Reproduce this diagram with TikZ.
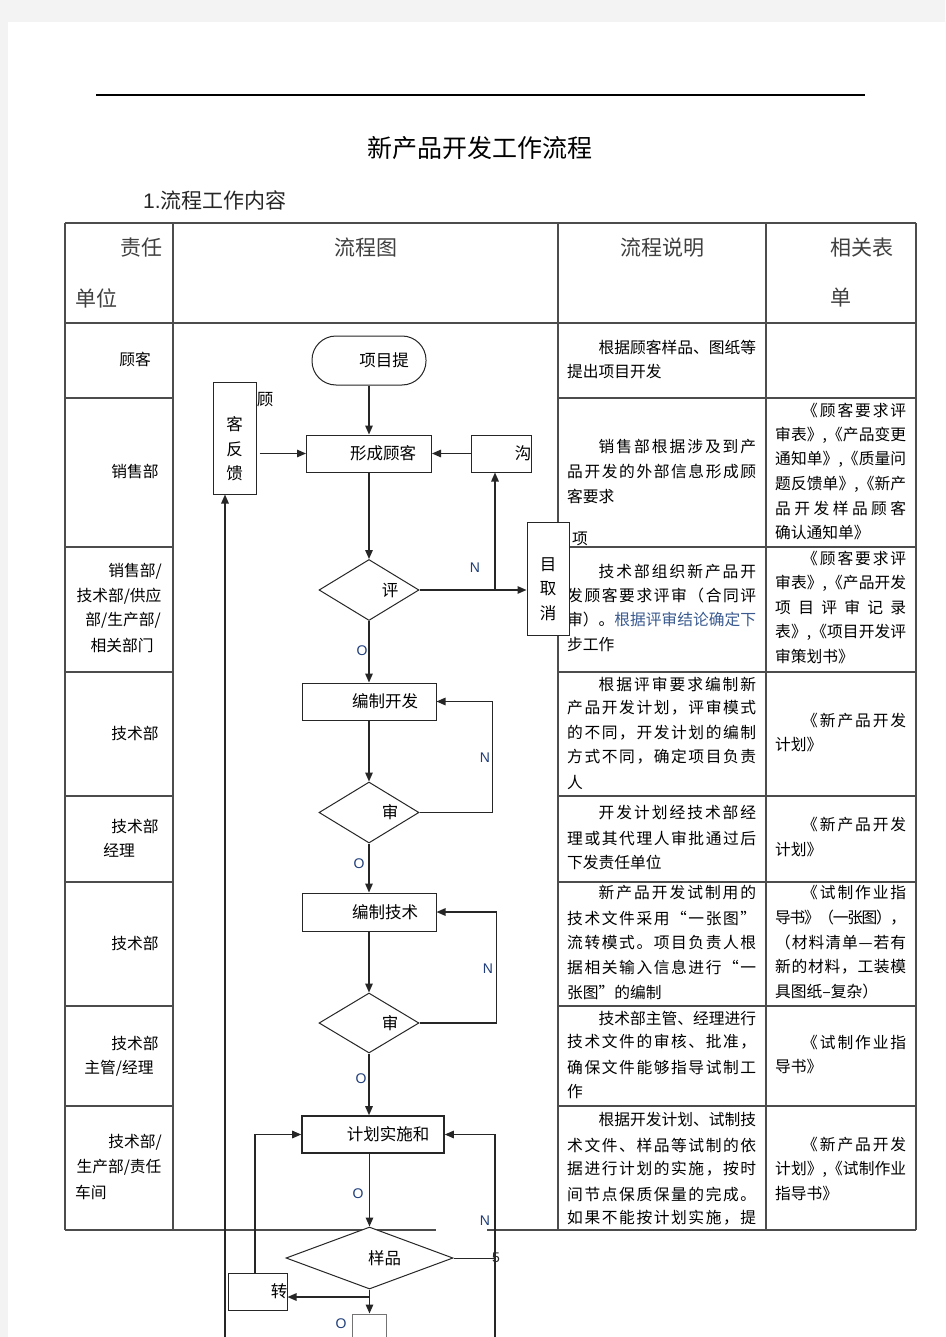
\documentclass[tikz,border=0pt]{standalone}
\usepackage{fontspec}
\setmainfont{Noto Sans CJK SC}
\newfontfamily\lat{Liberation Sans}
\usetikzlibrary{arrows.meta,shapes.geometric}
\makeatletter
\def\jl@loop#1{\ifx#1\relax\else#1\hskip0pt plus 1fil minus 4pt\relax\expandafter\jl@loop\fi}
\newcommand\jl[2]{\hbox to #1{\jl@loop#2\relax\unskip}}
\makeatother
\newcommand\tb{\fontsize{15.75pt}{18pt}\selectfont}
\newcommand\fc{\fontsize{16.5pt}{24.5pt}\selectfont}
\newcommand\hd{\fontsize{21pt}{24pt}\selectfont}
\newcommand\yn{\lat\fontsize{14pt}{16pt}\selectfont}
\definecolor{pagegray}{HTML}{F3F3F3}
\definecolor{nblue}{HTML}{1F3D7A}
\definecolor{btext}{HTML}{3A5A8F}
\definecolor{hdtext}{HTML}{404040}
\begin{document}
\begin{tikzpicture}[x=1pt,y=-1pt,
  tl/.style={line width=1.3pt, draw=black!70},
  box/.style={draw=black!85, line width=1pt, fill=white, inner sep=0pt},
  arr/.style={line width=1.4pt, draw=black!85, -{Triangle[length=9pt,width=7.5pt]}},
  ln/.style={line width=1.4pt, draw=black!85},
  c3/.style={anchor=west, inner sep=0pt, font=\tb, text=black},
  cc/.style={inner sep=0pt, font=\tb, text=black},
  hdr/.style={inner sep=0pt, font=\hd, text=hdtext},
  yn/.style={inner sep=0pt, font=\yn, text=nblue},
  every label/.style={font=\fc, inner sep=0pt, align=center}
]
\useasboundingbox (0,0) rectangle (945,1337);
\clip (0,0) rectangle (945,1337);
% page
\fill[pagegray] (0,0) rectangle (945,1337);
\fill[white] (8,22) rectangle (945,1337);
\draw[line width=1.2pt, black] (96,95) -- (865,95);

% titles
\node[inner sep=0pt, font=\fontsize{25pt}{28pt}\selectfont, text=black] (title) at (480,148) {新产品开发工作流程};
\node[anchor=west, inner sep=0pt, font=\fontsize{21pt}{24pt}\selectfont, text=black!85] (sub) at (143,200) {{\lat 1.}流程工作内容};

% table lines
\draw[tl] (65,223) -- (916,223);
\draw[tl] (65,323) -- (916,323);
\foreach \yy in {398,547,672,796,882,1006,1106} {
  \draw[tl] (65,\yy) -- (173,\yy);
  \draw[tl] (558,\yy) -- (916,\yy);
}
\draw[tl] (65,1230) -- (436,1230);
\draw[tl] (487,1230) -- (916,1230);
\foreach \xx in {65,173,558,766,916} {
  \draw[tl] (\xx,223) -- (\xx,1230);
}

% header
\node[hdr] (h1a) at (141,248) {责任};
\node[hdr] (h1b) at (96,298) {单位};
\node[hdr] (h2) at (366,248) {流程图};
\node[hdr] (h3) at (662,248) {流程说明};
\node[hdr] (h4a) at (862,248) {相关表};
\node[hdr] (h4b) at (841,298) {单};

% column 1
\node[cc] (u1) at (135,359) {顾客};
\node[cc] (u2) at (135,471) {销售部};
\node[cc] (u3a) at (135,571) {销售部/};
\node[cc] (u3b) at (119,596) {技术部/供应};
\node[cc] (u3c) at (123,620) {部/生产部/};
\node[cc] (u3d) at (122,645) {相关部门};
\node[cc] (u4) at (135,733) {技术部};
\node[cc] (u5a) at (135,826) {技术部};
\node[cc] (u5b) at (119,850) {经理};
\node[cc] (u6) at (135,943) {技术部};
\node[cc] (u7a) at (135,1043) {技术部};
\node[cc] (u7b) at (119,1068) {主管/经理};
\node[cc] (u8a) at (135,1142) {技术部/};
\node[cc] (u8b) at (119,1167) {生产部/责任};
\node[c3] (u8c) at (75,1192) {车间};

% column 3
\node[c3] (d1a) at (598.5,347) {\jl{157.5pt}{根据顾客样品、图纸等}};
\node[c3] (d1b) at (567,372) {提出项目开发};
\node[c3] (d2a) at (598.5,447) {\jl{157.5pt}{销售部根据涉及到产}};
\node[c3] (d2b) at (567,471) {\jl{189pt}{品开发的外部信息形成顾}};
\node[c3] (d2c) at (567,496) {客要求};
\node[c3] (d3a) at (598.5,572) {\jl{157.5pt}{技术部组织新产品开}};
\node[c3] (d3b) at (567,596) {\jl{189pt}{发顾客要求评审（合同评}};
\node[c3] (d3c) at (567,620) {审）。{\color{btext}根据评审结论确定下}};
\node[c3] (d3d) at (567,645) {步工作};
\node[c3] (d4a) at (598.5,684) {\jl{157.5pt}{根据评审要求编制新}};
\node[c3] (d4b) at (567,708) {\jl{189pt}{产品开发计划，评审模式}};
\node[c3] (d4c) at (567,733) {\jl{189pt}{的不同，开发计划的编制}};
\node[c3] (d4d) at (567,757) {\jl{189pt}{方式不同，确定项目负责}};
\node[c3] (d4e) at (567,782) {人};
\node[c3] (d5a) at (598.5,813) {\jl{157.5pt}{开发计划经技术部经}};
\node[c3] (d5b) at (567,838) {\jl{189pt}{理或其代理人审批通过后}};
\node[c3] (d5c) at (567,862) {下发责任单位};
\node[c3] (d6a) at (598.5,893) {\jl{157.5pt}{新产品开发试制用的}};
\node[c3] (d6b) at (567,918) {\jl{189pt}{技术文件采用“一张图”}};
\node[c3] (d6c) at (567,943) {\jl{189pt}{流转模式。项目负责人根}};
\node[c3] (d6d) at (567,967) {\jl{189pt}{据相关输入信息进行“一}};
\node[c3] (d6e) at (567,992) {张图”的编制};
\node[c3] (d7a) at (598.5,1018) {\jl{157.5pt}{技术部主管、经理进行}};
\node[c3] (d7b) at (567,1042) {\jl{189pt}{技术文件的审核、批准，}};
\node[c3] (d7c) at (567,1067) {\jl{189pt}{确保文件能够指导试制工}};
\node[c3] (d7d) at (567,1092) {作};
\node[c3] (d8a) at (598.5,1120) {\jl{157.5pt}{根据开发计划、试制技}};
\node[c3] (d8b) at (567,1145) {\jl{189pt}{术文件、样品等试制的依}};
\node[c3] (d8c) at (567,1169) {\jl{189pt}{据进行计划的实施，按时}};
\node[c3] (d8d) at (567,1194) {\jl{189pt}{间节点保质保量的完成。}};
\node[c3] (d8e) at (567,1218) {\jl{189pt}{如果不能按计划实施，提}};

% column 4
\node[c3] (f2a) at (802,410) {\jl{104pt}{《顾客要求评}};
\node[c3] (f2b) at (775,435) {\jl{131pt}{审表》,《产品变更}};
\node[c3] (f2c) at (775,459) {\jl{131pt}{通知单》,《质量问}};
\node[c3] (f2d) at (775,484) {\jl{131pt}{题反馈单》,《新产}};
\node[c3] (f2e) at (775,508) {\jl{131pt}{品开发样品顾客}};
\node[c3] (f2f) at (775,533) {确认通知单》};
\node[c3] (f3a) at (802,558) {\jl{104pt}{《顾客要求评}};
\node[c3] (f3b) at (775,583) {\jl{131pt}{审表》,《产品开发}};
\node[c3] (f3c) at (775,607) {\jl{131pt}{项目评审记录}};
\node[c3] (f3d) at (775,632) {\jl{131pt}{表》,《项目开发评}};
\node[c3] (f3e) at (775,657) {审策划书》};
\node[c3] (f4a) at (802,721) {\jl{104pt}{《新产品开发}};
\node[c3] (f4b) at (775,745) {计划》};
\node[c3] (f5a) at (802,825) {\jl{104pt}{《新产品开发}};
\node[c3] (f5b) at (775,850) {计划》};
\node[c3] (f6a) at (802,893) {\jl{104pt}{《试制作业指}};
\node[c3] (f6b) at (775,918) {\jl{131pt}{导书》（一张图），}};
\node[c3] (f6c) at (775,943) {\jl{131pt}{（材料清单—若有}};
\node[c3] (f6d) at (775,967) {\jl{131pt}{新的材料，工装模}};
\node[c3] (f6e) at (775,992) {具图纸--复杂）};
\node[c3] (f7a) at (802,1043) {\jl{104pt}{《试制作业指}};
\node[c3] (f7b) at (775,1067) {导书》};
\node[c3] (f8a) at (802,1145) {\jl{104pt}{《新产品开发}};
\node[c3] (f8b) at (775,1169) {\jl{131pt}{计划》,《试制作业}};
\node[c3] (f8c) at (775,1194) {指导书》};

% flowchart shapes
\node[box, rounded corners=24pt, minimum width=114pt, minimum height=49pt,
  label={[xshift=15pt]center:项目提}] (term) at (369,360.5) {};
\node[box, minimum width=125pt, minimum height=37pt,
  label={[xshift=14pt]center:形成顾客}] (form) at (369,453.5) {};
\node[box, minimum width=43pt, minimum height=112pt,
  label={[yshift=-11pt]center:客\\反\\馈}] (fb) at (234.5,438) {};
\node[inner sep=0pt, font=\fc] (gu) at (265,400) {顾};
\node[box, minimum width=60pt, minimum height=37pt,
  label={[xshift=22pt]center:沟}] (gou) at (501,453.5) {};
\node[box, diamond, minimum width=100pt, minimum height=61pt,
  label={[xshift=21pt]center:评}] (dA) at (369,590) {};
\node[box, minimum width=42pt, minimum height=113pt,
  label={[yshift=-10.5pt]center:目\\取\\消}] (cancel) at (548,578.5) {};
\node[inner sep=0pt, font=\tb] (xiang) at (580,539) {项};
\node[box, minimum width=134pt, minimum height=37pt,
  label={[xshift=16pt]center:编制开发}] (dev) at (369,701.5) {};
\node[box, diamond, minimum width=100pt, minimum height=61pt,
  label={[xshift=21pt]center:审}] (dB) at (369,812.5) {};
\node[box, minimum width=134pt, minimum height=38pt,
  label={[xshift=16pt]center:编制技术}] (tech) at (369,912) {};
\node[box, diamond, minimum width=100pt, minimum height=60pt,
  label={[xshift=21pt]center:审}] (dC) at (369,1023) {};
\node[box, line width=1.6pt, minimum width=142pt, minimum height=37pt,
  label={[xshift=15pt]center:计划实施和}] (plan) at (373,1134.5) {};
\node[box, diamond, minimum width=167pt, minimum height=62pt,
  label={[xshift=15pt]center:样品}] (dD) at (369.5,1258) {};
\node[box, minimum width=59pt, minimum height=37pt,
  label={[xshift=21.5pt]center:转}] (turn) at (257.5,1291.5) {};
\node[box, draw=black!55, minimum width=34pt, minimum height=32pt] (nxt) at (369.5,1330) {};

\coordinate (jA) at (495,590);
\coordinate (jD) at (369.5,1297);
\coordinate (fbBot) at (225,1337);
\coordinate (rBot) at (495,1337);

% connectors
\draw[arr] (term.south) -- (term.south |- form.north);
\draw[arr] ([xshift=3pt]fb.east |- form.west) -- (form.west);
\draw[arr] (gou.west) -- (form.east);
\draw[arr] (form.south) -- (form.south |- dA.north);
\draw[arr] (dA.east) -- (dA.east -| cancel.west);
\draw[arr] (jA) -- (jA |- gou.south);
\draw[arr] (dA.south) -- (dA.south |- dev.north);
\draw[arr] (dev.south) -- (dev.south |- dB.north);
\draw[arr] (dB.east) -- ++(73,0) |- (dev.east);
\draw[arr] (dB.south) -- (dB.south |- tech.north);
\draw[arr] (tech.south) -- (tech.south |- dC.north);
\draw[arr] (dC.east) -- ++(77,0) |- (tech.east);
\draw[arr] (dC.south) -- (dC.south |- plan.north);
\draw[arr] (dD.north |- plan.south) -- (dD.north);
\draw[ln, line width=1pt] (dD.east) -- (dD.east -| rBot);
\draw[arr] (rBot) |- (plan.east);
\draw[arr] ([xshift=-2.5pt]turn.north) |- (plan.west);
\draw[ln] (dD.south) -- (jD);
\draw[arr] (jD) -- (jD -| turn.east);
\draw[arr] (jD) -- (nxt.north);
\draw[arr] (fbBot) -- (fbBot |- fb.south);

% Y/N labels
\node[yn] (nA) at (475,568) {N};
\node[yn] (oA) at (362,651) {O};
\node[yn] (nB) at (485,758) {N};
\node[yn] (oB) at (359,864) {O};
\node[yn] (nC) at (488,969) {N};
\node[yn] (oC) at (361,1079) {O};
\node[yn] (oD) at (358,1194) {O};
\node[yn] (nD) at (485,1221) {N};
\node[yn, text=black!85] (five) at (496,1258) {5};
\node[yn] (oE) at (341,1324) {O};
\end{tikzpicture}
\end{document}
